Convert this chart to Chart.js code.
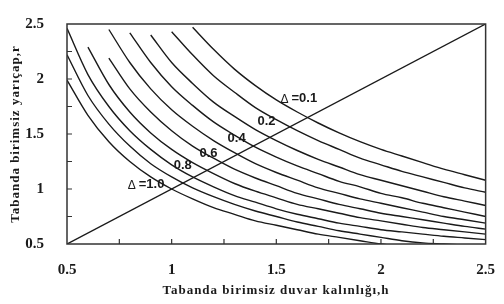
<!DOCTYPE html>
<html>
<head>
<meta charset="utf-8">
<script src="https://cdn.jsdelivr.net/npm/chart.js@4.4.0/dist/chart.umd.min.js"></script>
<style>
html, body { margin: 0; padding: 0; background: #fff; }
#wrap { width: 504px; height: 304px; }
</style>
</head>
<body>
<div id="wrap"><canvas id="grafik"></canvas></div>
<script>
// h values (x axis), one column per 0.1
var hGrid = [0.5, 0.6, 0.7, 0.8, 0.9, 1.0, 1.1, 1.2, 1.3, 1.4, 1.5, 1.6, 1.7, 1.8, 1.9, 2.0, 2.1, 2.2, 2.3, 2.4, 2.5];

// r for each delta curve (null = curve not started yet)
var rD01 = [null, null, null, null, null, null, 2.47, 2.27, 2.09, 1.94, 1.81, 1.70, 1.60, 1.51, 1.43, 1.36, 1.30, 1.24, 1.18, 1.13, 1.08];
var rD02 = [null, null, null, null, null, 2.43, 2.22, 2.03, 1.88, 1.74, 1.63, 1.53, 1.44, 1.36, 1.28, 1.22, 1.16, 1.11, 1.06, 1.01, 0.97];
var rD03 = [null, null, null, null, 2.40, 2.15, 1.96, 1.79, 1.66, 1.54, 1.44, 1.35, 1.27, 1.20, 1.13, 1.08, 1.03, 0.98, 0.93, 0.89, 0.85];
var rD04 = [null, null, null, 2.42, 2.15, 1.93, 1.76, 1.61, 1.49, 1.38, 1.29, 1.21, 1.14, 1.07, 1.02, 0.96, 0.92, 0.87, 0.83, 0.79, 0.75];
var rD05 = [null, null, 2.45, 2.15, 1.91, 1.72, 1.57, 1.44, 1.33, 1.23, 1.15, 1.08, 1.01, 0.96, 0.91, 0.87, 0.83, 0.79, 0.75, 0.72, 0.69];
var rD06 = [null, null, 2.19, 1.91, 1.70, 1.53, 1.39, 1.28, 1.18, 1.10, 1.03, 0.96, 0.91, 0.86, 0.82, 0.78, 0.75, 0.72, 0.69, 0.66, 0.635];
var rD07 = [null, 2.29, 1.95, 1.70, 1.51, 1.36, 1.24, 1.14, 1.05, 0.98, 0.92, 0.86, 0.82, 0.78, 0.74, 0.71, 0.68, 0.65, 0.63, 0.61, 0.59];
var rD08 = [2.46, 2.04, 1.75, 1.53, 1.36, 1.22, 1.11, 1.02, 0.94, 0.88, 0.82, 0.77, 0.73, 0.69, 0.66, 0.63, 0.61, 0.59, 0.57, 0.555, 0.54];
var rD09 = [2.22, 1.85, 1.59, 1.39, 1.23, 1.11, 1.01, 0.93, 0.86, 0.80, 0.75, 0.70, 0.66, 0.62, 0.59, 0.56, 0.53, 0.51, 0.50, 0.49, 0.48];
var rD10 = [1.99, 1.67, 1.43, 1.25, 1.11, 1.00, 0.91, 0.83, 0.77, 0.71, 0.67, 0.63, 0.59, 0.56, 0.53, 0.50, 0.48, 0.46, 0.44, 0.42, 0.40];

// r = h line
var diagH = [0.5, 2.5];
var diagR = [0.5, 2.5];

var deltaNames = ['0.1', '0.2', '0.3', '0.4', '0.5', '0.6', '0.7', '0.8', '0.9', '1.0'];

// curve labels: text and where they sit (h, r of left edge)
var labelTexts = ['=0.1', '0.2', '0.4', '0.6', '0.8', '=1.0'];
var labelDelta = [true, false, false, false, false, true];
var labelH = [1.52, 1.41, 1.267, 1.133, 1.01, 0.79];
var labelR = [1.825, 1.614, 1.462, 1.327, 1.21, 1.04];

var curves = [rD01, rD02, rD03, rD04, rD05, rD06, rD07, rD08, rD09, rD10];

function toPoints(xs, ys) {
    var pts = [];
    for (var i = 0; i < xs.length; i++) {
        if (ys[i] !== null) pts.push({ x: xs[i], y: ys[i] });
    }
    return pts;
}

var datasets = curves.map(function(r, i) {
    return {
        label: 'Δ=' + deltaNames[i],
        data: toPoints(hGrid, r),
        borderColor: '#1a1a1a',
        borderWidth: 1.4,
        pointRadius: 0,
        showLine: true,
        cubicInterpolationMode: 'monotone'
    };
});
datasets.push({
    label: 'r=h',
    data: toPoints(diagH, diagR),
    borderColor: '#1a1a1a',
    borderWidth: 1.4,
    pointRadius: 0,
    showLine: true
});

var serif = '"Liberation Serif", "Times New Roman", serif';
var sans = '"Liberation Sans", Arial, sans-serif';

var cercevePlugin = {
    id: 'cerceve',
    afterDatasetsDraw: function(chart) {
        var ctx = chart.ctx;
        var a = chart.chartArea;
        var xs = chart.scales.x;
        var ys = chart.scales.y;
        ctx.save();

        // frame
        ctx.strokeStyle = '#333';
        ctx.lineWidth = 1.5;
        ctx.strokeRect(a.left, a.top, a.right - a.left, a.bottom - a.top);

        // inward tick marks every 0.25
        ctx.lineWidth = 1.2;
        ctx.beginPath();
        for (var v = 0.75; v < 2.5; v += 0.25) {
            var px = xs.getPixelForValue(v);
            ctx.moveTo(px, a.bottom);
            ctx.lineTo(px, a.bottom - 5);
            var py = ys.getPixelForValue(v);
            ctx.moveTo(a.left, py);
            ctx.lineTo(a.left + 5, py);
        }
        ctx.stroke();

        // curve labels
        ctx.fillStyle = '#1a1a1a';
        ctx.textBaseline = 'middle';
        ctx.textAlign = 'left';
        for (var i = 0; i < labelTexts.length; i++) {
            var lx = xs.getPixelForValue(labelH[i]);
            var ly = ys.getPixelForValue(labelR[i]);
            if (labelDelta[i]) {
                ctx.font = '12px ' + sans;
                ctx.fillText('Δ', lx, ly + 1);
                lx += 11;
            }
            ctx.font = 'bold 13px ' + sans;
            ctx.fillText(labelTexts[i], lx, ly);
        }

        // axis titles
        ctx.font = 'bold 13px ' + serif;
        ctx.letterSpacing = '1px';
        ctx.textAlign = 'center';
        ctx.fillText('Tabanda birimsiz duvar kalınlığı,h', 276, 291);
        ctx.translate(16, 134);
        ctx.rotate(-Math.PI / 2);
        ctx.fillText('Tabanda birimsiz yarıçap,r', 0, 0);
        ctx.restore();
    }
};

function tickText(value) {
    return String(Math.round(value * 100) / 100);
}

new Chart(document.getElementById('grafik'), {
    type: 'scatter',
    data: { datasets: datasets },
    options: {
        responsive: true,
        maintainAspectRatio: false,
        animation: false,
        layout: { padding: { top: 7, right: 17, left: 0, bottom: 0 } },
        plugins: {
            legend: { display: false },
            tooltip: { enabled: false }
        },
        scales: {
            x: {
                type: 'linear',
                min: 0.5,
                max: 2.5,
                grid: { display: false },
                border: { display: false },
                ticks: {
                    stepSize: 0.5,
                    padding: 9,
                    color: '#1a1a1a',
                    callback: tickText,
                    font: { family: serif, size: 15, weight: 'bold' }
                },
                afterFit: function(scale) { scale.height = 60; }
            },
            y: {
                type: 'linear',
                min: 0.5,
                max: 2.5,
                grid: { display: false },
                border: { display: false },
                ticks: {
                    stepSize: 0.5,
                    padding: 15,
                    color: '#1a1a1a',
                    callback: tickText,
                    font: { family: serif, size: 15, weight: 'bold' }
                },
                afterFit: function(scale) { scale.width = 67; }
            }
        }
    },
    plugins: [cercevePlugin]
});
</script>
</body>
</html>
